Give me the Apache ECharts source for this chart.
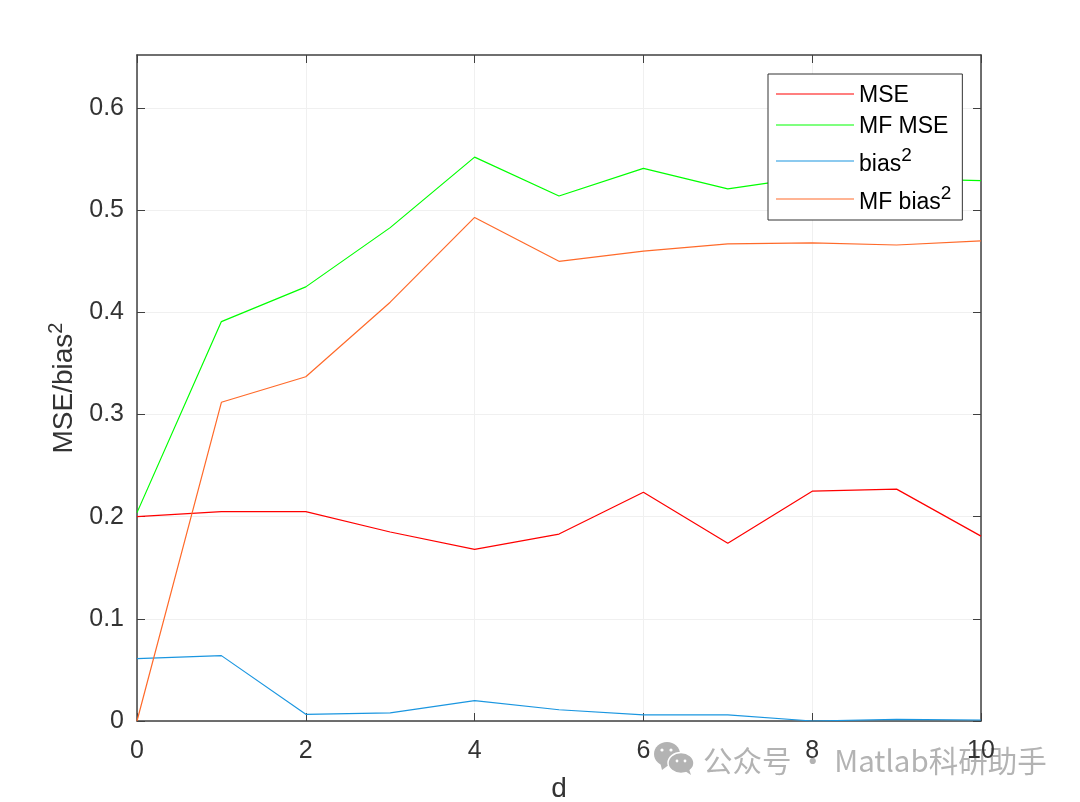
<!DOCTYPE html>
<html>
<head>
<meta charset="utf-8">
<style>html,body{margin:0;padding:0;background:#fff}#main{width:1080px;height:802px}</style>
<script src="https://cdn.jsdelivr.net/npm/echarts@6/dist/echarts.min.js"></script>
</head>
<body>
<div id="main"></div>
<script>
const d = [0, 1, 2, 3, 4, 5, 6, 7, 8, 9, 10];
const mse = [0.2, 0.205, 0.205, 0.185, 0.168, 0.183, 0.224, 0.174, 0.225, 0.227, 0.181];
const mfMse = [0.204, 0.391, 0.425, 0.483, 0.552, 0.514, 0.541, 0.521, 0.533, 0.531, 0.529];
const bias2 = [0.061, 0.064, 0.0065, 0.008, 0.02, 0.011, 0.006, 0.006, 0, 0.0015, 0.001];
const mfBias2 = [0, 0.312, 0.337, 0.41, 0.493, 0.45, 0.46, 0.467, 0.468, 0.466, 0.47];
const yTicks = [0, 0.1, 0.2, 0.3, 0.4, 0.5, 0.6];
const yMax = 0.652;

const font = '"Liberation Sans", Arial, sans-serif';
const inkColor = '#333333';
const axisColor = '#404040';
const markColor = '#b3b3b3';

const pairs = vals => d.map((x, i) => [x, vals[i]]);
const line = (name, vals, color) => ({
  name, type: 'line', data: pairs(vals), showSymbol: false, symbol: 'none',
  lineStyle: { color, width: 1.2 }, itemStyle: { color }, z: 3
});

// bottom/left carry labels, top/right only mirror the ticks like a matlab box
const baseAxis = {
  type: 'value',
  axisLine: { show: true, onZero: false, lineStyle: { color: axisColor, width: 1.5 } },
  minorTick: { show: false }
};
const xTick = { show: true, inside: true, length: 8, lineStyle: { color: axisColor, width: 1 } };
const yTick = { ...xTick, customValues: yTicks };

const option = {
  animation: false,
  backgroundColor: '#fff',
  textStyle: { fontFamily: font },
  // outerBoundsMode none, otherwise the d label pushes the plot up
  grid: { left: 137, right: 99, top: 55, bottom: 81, containLabel: false, outerBoundsMode: 'none' },
  xAxis: [
    {
      ...baseAxis, min: 0, max: 10, interval: 2, position: 'bottom', axisTick: xTick,
      axisLabel: { color: inkColor, fontSize: 25, fontFamily: font, margin: 18 },
      splitLine: { show: true, lineStyle: { color: '#f0f0f0', width: 1 } },
      name: 'd', nameLocation: 'middle', nameGap: 54,
      nameTextStyle: { color: inkColor, fontSize: 28, fontFamily: font }
    },
    { ...baseAxis, min: 0, max: 10, interval: 2, position: 'top', axisTick: xTick, axisLabel: { show: false }, splitLine: { show: false } }
  ],
  yAxis: [
    {
      ...baseAxis, min: 0, max: yMax, interval: 0.1, position: 'left', axisTick: yTick,
      axisLabel: { color: inkColor, fontSize: 25, fontFamily: font, margin: 13, customValues: yTicks,
        padding: [5, 0, 0, 0],
        formatter: v => v === 0 ? '0' : v.toFixed(1) },
      splitLine: { show: true, lineStyle: { color: '#f0f0f0', width: 1 } },
      name: '{a|MSE/bias}{s|2}', nameLocation: 'middle', nameGap: 57, nameRotate: 90,
      nameTextStyle: {
        rich: {
          a: { fontSize: 28, color: inkColor, fontFamily: font, verticalAlign: 'bottom', lineHeight: 32 },
          s: { fontSize: 20, color: inkColor, fontFamily: font, verticalAlign: 'top', lineHeight: 32 }
        }
      }
    },
    { ...baseAxis, min: 0, max: yMax, interval: 0.1, position: 'right', axisTick: yTick, axisLabel: { show: false }, splitLine: { show: false } }
  ],
  legend: {
    left: 768, top: 74, orient: 'vertical', align: 'left',
    padding: [10, 11, 6, 8], itemGap: 8, itemWidth: 78, itemHeight: 10,
    backgroundColor: '#fff', borderColor: '#333', borderWidth: 1, z: 10,
    icon: 'path://M0 4.5H78V5.5H0Z',
    data: ['MSE', 'MF MSE', 'bias2', 'MF bias2'],
    formatter: n => n.endsWith('2') ? '{a|' + n.slice(0, -1) + '}{s|2}' : '{a|' + n + '}',
    textStyle: {
      rich: {
        a: { fontSize: 23, color: '#000', fontFamily: font, lineHeight: 26, verticalAlign: 'bottom' },
        s: { fontSize: 19, color: '#000', fontFamily: font, lineHeight: 30, verticalAlign: 'top' }
      }
    }
  },
  series: [
    line('MSE', mse, '#ff0000'),
    line('MF MSE', mfMse, '#00ff00'),
    line('bias2', bias2, '#1a96e0'),
    line('MF bias2', mfBias2, '#ff6a2a')
  ],
  graphic: [
    { type: 'text', left: 703, top: 746, z: -1, silent: true,
      style: { text: '公众号 · Matlab科研助手', fill: markColor, fontSize: 29.5,
        fontFamily: '"Noto Sans CJK SC", "Noto Sans", sans-serif' } },
    // wechat mark
    { type: 'ellipse', z: -4, silent: true, shape: { cx: 667, cy: 754, rx: 13, ry: 12 }, style: { fill: markColor } },
    { type: 'polygon', z: -4, silent: true, shape: { points: [[660, 762], [662, 770], [670, 764]] }, style: { fill: markColor } },
    { type: 'ellipse', z: -3, silent: true, shape: { cx: 681, cy: 763, rx: 13, ry: 10.5 }, style: { fill: markColor, stroke: '#fff', lineWidth: 1.5 } },
    { type: 'polygon', z: -3, silent: true, shape: { points: [[685, 771], [691, 775], [689, 769]] }, style: { fill: markColor } },
    { type: 'circle', z: -2, silent: true, shape: { cx: 662, cy: 750, r: 1.6 }, style: { fill: '#fff' } },
    { type: 'circle', z: -2, silent: true, shape: { cx: 671, cy: 750, r: 1.6 }, style: { fill: '#fff' } },
    { type: 'circle', z: -2, silent: true, shape: { cx: 677, cy: 761, r: 1.4 }, style: { fill: '#fff' } },
    { type: 'circle', z: -2, silent: true, shape: { cx: 685, cy: 761, r: 1.4 }, style: { fill: '#fff' } }
  ]
};

const myChart = echarts.init(document.getElementById('main'));
myChart.setOption(option);
</script>
</body>
</html>
